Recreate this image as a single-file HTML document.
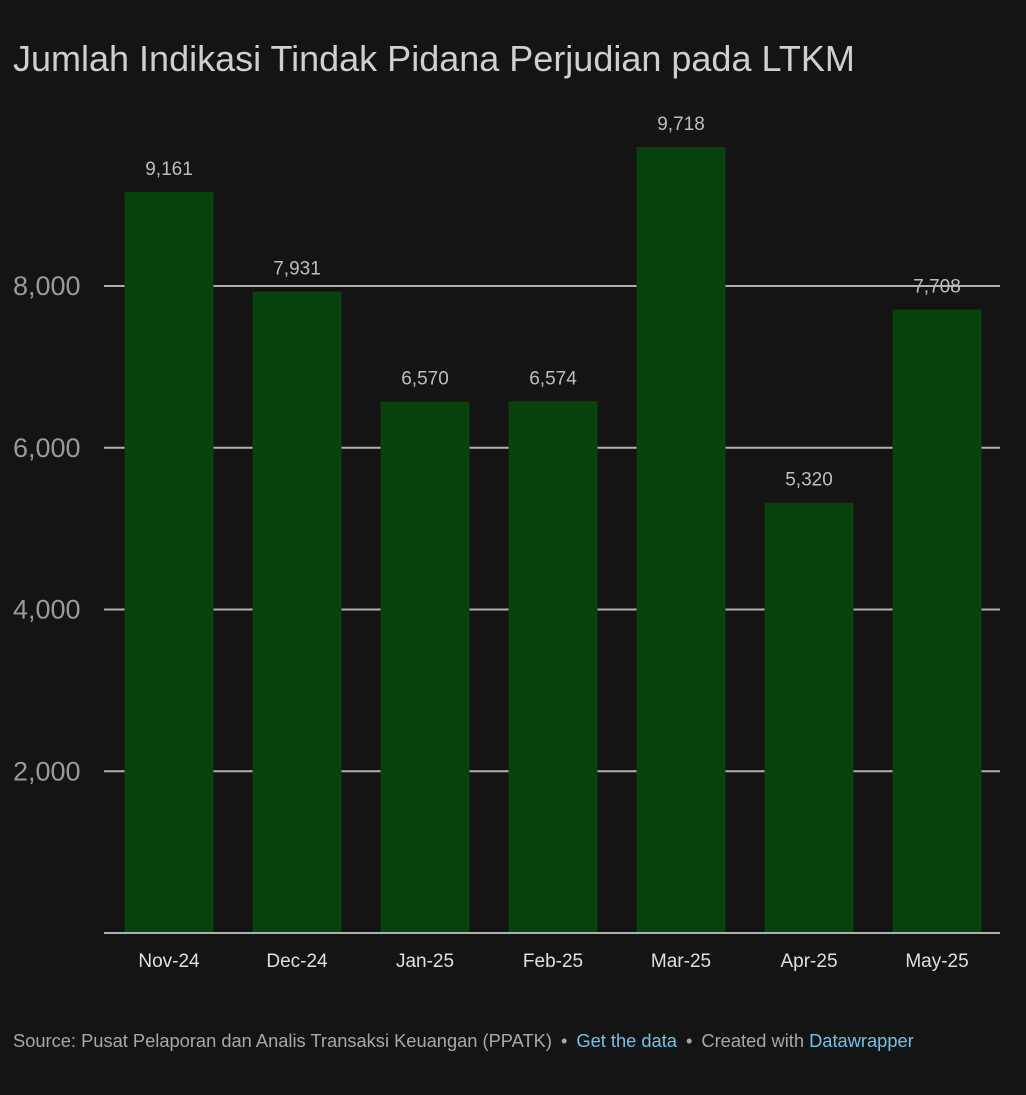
<!DOCTYPE html>
<html><head><meta charset="utf-8"><style>
body{margin:0;background:#141414;width:1026px;height:1095px;overflow:hidden;font-family:"Liberation Sans",sans-serif}
#title{position:absolute;left:13px;top:38px;font-size:36px;color:#cfcfcf;font-weight:300;letter-spacing:0px}
#footer{position:absolute;left:13px;top:1030px;font-size:18.3px;color:#a8a8a8;white-space:nowrap}
#footer a{color:#6fc3e8;text-decoration:none}
.sep{margin:0 9px}
</style></head><body>
<div id="title">Jumlah Indikasi Tindak Pidana Perjudian pada LTKM</div>
<svg id="chart" width="1026" height="1000" style="position:absolute;left:0;top:0"></svg>
<div id="footer">Source: Pusat Pelaporan dan Analis Transaksi Keuangan (PPATK)<span class="sep">•</span><a href="#">Get the data</a><span class="sep">•</span>Created with <a href="#">Datawrapper</a></div>
<script>
const categories=["Nov-24","Dec-24","Jan-25","Feb-25","Mar-25","Apr-25","May-25"];
const values=[9161,7931,6570,6574,9718,5320,7708];
const valueLabels=["9,161","7,931","6,570","6,574","9,718","5,320","7,708"];
const ticks=[2000,4000,6000,8000];
const tickLabels=["2,000","4,000","6,000","8,000"];
const NS="http://www.w3.org/2000/svg";
const svg=document.getElementById('chart');
const y0=933,pxPer=(933-286)/8000;
const y=v=>y0-v*pxPer;
const x0=105,step=128,bw=89;
const xc=i=>x0+64+i*step;
function mk(t,a,txt){const e=document.createElementNS(NS,t);for(const k in a)e.setAttribute(k,a[k]);if(txt!==undefined)e.textContent=txt;svg.appendChild(e);return e;}
ticks.forEach((t,i)=>{
 let l=mk('line',{x1:104,x2:1000,y1:y(t),y2:y(t),stroke:'#b0b0b0','stroke-width':2});
 
 
 let tx=mk('text',{x:13,y:y(t)+9,fill:'#9a9a9a','font-size':27,'font-family':'Liberation Sans'},tickLabels[i]);
 
 
});
values.forEach((v,i)=>{
 let r=mk('rect',{x:xc(i)-bw/2,y:y(v),width:bw,height:y0-y(v),fill:'#08420c'});
 
 
 let t=mk('text',{x:xc(i),y:y(v)-17,fill:'#bdbdbd','font-size':19,'text-anchor':'middle','font-family':'Liberation Sans'},valueLabels[i]);
 
 
 let c=mk('text',{x:xc(i),y:967,fill:'#e0e0e0','font-size':19,'text-anchor':'middle','font-family':'Liberation Sans'},categories[i]);
 
 
});
let b=mk('line',{x1:104,x2:1000,y1:y0,y2:y0,stroke:'#b0b0b0','stroke-width':2});


</script>
</body></html>
